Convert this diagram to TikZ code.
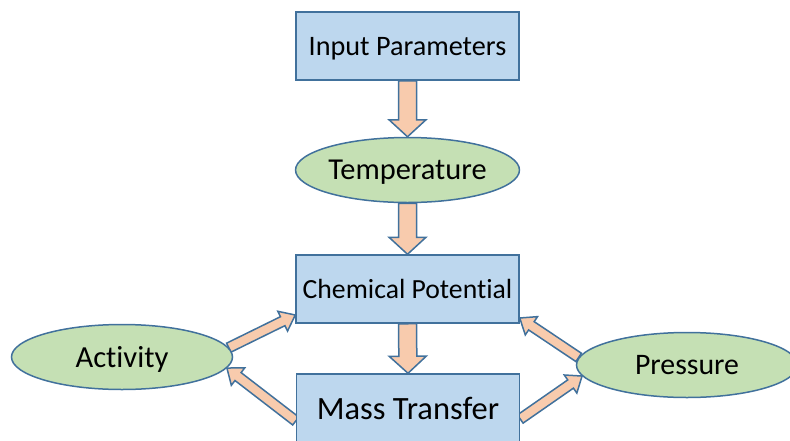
\documentclass[tikz,border=0pt]{standalone}
\usepackage{fontspec}
\setmainfont{Carlito}[Ligatures=NoCommon]
\usetikzlibrary{shapes.geometric}
\usetikzlibrary{calc}
\usetikzlibrary{backgrounds}
\definecolor{boxblue}{HTML}{BDD7EE}
\definecolor{ovalgreen}{HTML}{C5E0B4}
\definecolor{arrowpeach}{HTML}{F8CBAD}
\definecolor{edgeblue}{HTML}{41719C}
\tikzset{
	% rectangles
	stage/.style={draw=edgeblue,fill=boxblue,line width=1.5pt,minimum width=223pt,minimum height=68pt,inner sep=0pt,text depth=0pt},
	% ovals
	factor/.style={ellipse,draw=edgeblue,fill=ovalgreen,line width=1.5pt,minimum width=221pt,minimum height=65pt,inner sep=0pt,text depth=0pt},
	% block arrows
	fatarr/.style={draw=edgeblue,fill=arrowpeach,line width=1.5pt,line join=miter},
}
% block arrow: from, to, half shaft, half head, head length
\newcommand{\fatarrow}[5]{%
  \path ($(#2)!#5!(#1)$) coordinate (hb);
  \draw[fatarr] ($(#1)!#3!90:(#2)$) -- ($(hb)!#3!90:(#2)$) -- ($(hb)!#4!90:(#2)$) -- (#2)
    -- ($(hb)!#4!-90:(#2)$) -- ($(hb)!#3!-90:(#2)$) -- ($(#1)!#3!-90:(#2)$) -- cycle;}

\begin{document}
\begin{tikzpicture}[x=1pt,y=-1pt]
\useasboundingbox (0,0) rectangle (790,440);
% the chain in the middle
\node[stage,font=\fontsize{28.2}{30}\selectfont] (input) at (407.5,46) {Input Parameters};
\node[factor,font=\fontsize{30.4}{32}\selectfont] (temp) at (407.5,170) {Temperature};
\node[stage,font=\fontsize{27.7}{30}\selectfont] (chem) at (407.5,289) {Chemical Potential};
\node[stage,font=\fontsize{32.5}{34}\selectfont] (mass) at (408,408) {Mass Transfer};
% the two side factors
\node[factor,font=\fontsize{30.6}{32}\selectfont] (act) at (122,357) {Activity};
\node[factor,font=\fontsize{29.8}{32}\selectfont] (press) at (687,365) {Pressure};
% the arrows
\begin{scope}[on background layer]
\fatarrow{input.south}{temp.north}{9pt}{18.5pt}{17pt}
\fatarrow{temp.south}{chem.north}{9pt}{18.5pt}{17pt}
\fatarrow{chem.south}{mass.north}{9pt}{18.5pt}{17pt}
\fatarrow{act.5}{[yshift=-26pt]chem.west}{5pt}{11pt}{14pt}
\fatarrow{[yshift=-13pt]mass.west}{act.354}{5pt}{11pt}{14pt}
\fatarrow{press.176}{[yshift=-29pt]chem.east}{5pt}{11pt}{14pt}
\fatarrow{[yshift=-11pt]mass.east}{press.186}{5pt}{11pt}{14pt}
\end{scope}
\end{tikzpicture}
\end{document}
